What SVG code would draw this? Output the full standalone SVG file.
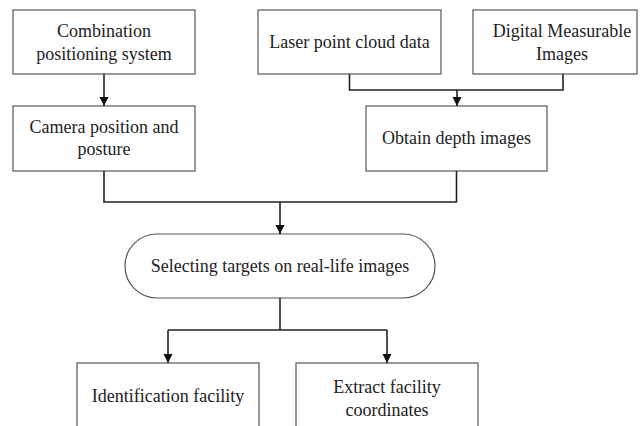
<svg xmlns="http://www.w3.org/2000/svg" width="640" height="426" viewBox="0 0 640 426">
  <style>
    .box { fill: #ffffff; stroke: #555555; stroke-width: 1.2; }
    .lbl { font-family: "Liberation Serif", "Times New Roman", serif; font-size: 18px; fill: #222222; text-anchor: middle; }
    .wire { fill: none; stroke: #222222; stroke-width: 1.6; }
  </style>
  <defs>
    <marker id="arrow" viewBox="0 0 10 10" refX="10" refY="5" markerWidth="9" markerHeight="10" markerUnits="userSpaceOnUse" orient="auto">
      <path d="M0,0 L10,5 L0,10 Z" fill="#111111"/>
    </marker>
  </defs>
  <rect width="640" height="426" fill="#ffffff"/>

  <g id="combination">
    <rect class="box" x="13" y="10" width="182" height="64"/>
    <text class="lbl" x="104" y="37">Combination</text>
    <text class="lbl" x="104" y="60">positioning system</text>
  </g>
  <g id="laser">
    <rect class="box" x="258" y="10" width="183" height="64"/>
    <text class="lbl" x="349.5" y="48">Laser point cloud data</text>
  </g>
  <g id="digital">
    <rect class="box" x="473" y="10" width="164" height="64"/>
    <text class="lbl" x="562" y="37">Digital Measurable</text>
    <text class="lbl" x="562" y="60">Images</text>
  </g>
  <g id="camera">
    <rect class="box" x="13" y="106" width="182" height="65"/>
    <text class="lbl" x="104" y="133">Camera position and</text>
    <text class="lbl" x="104" y="155">posture</text>
  </g>
  <g id="depth">
    <rect class="box" x="366" y="106" width="181" height="65"/>
    <text class="lbl" x="456.5" y="144">Obtain depth images</text>
  </g>
  <g id="selecting">
    <rect class="box" x="125" y="234" width="310" height="64" rx="32" ry="32"/>
    <text class="lbl" x="280" y="272">Selecting targets on real-life images</text>
  </g>
  <g id="identification">
    <rect class="box" x="77" y="363" width="182" height="66"/>
    <text class="lbl" x="168" y="402">Identification facility</text>
  </g>
  <g id="extract">
    <rect class="box" x="296" y="363" width="182" height="66"/>
    <text class="lbl" x="387" y="393">Extract facility</text>
    <text class="lbl" x="387" y="416">coordinates</text>
  </g>

  <g id="connectors">
    <path class="wire" d="M104,74 V106" marker-end="url(#arrow)"/>
    <path class="wire" d="M349.5,74 V90 H563 V74"/>
    <path class="wire" d="M457,90 V106" marker-end="url(#arrow)"/>
    <path class="wire" d="M104,171 V202 H456.5 V171"/>
    <path class="wire" d="M280,202 V234" marker-end="url(#arrow)"/>
    <path class="wire" d="M280,298 V330"/>
    <path class="wire" d="M168,330 H387"/>
    <path class="wire" d="M168,330 V363" marker-end="url(#arrow)"/>
    <path class="wire" d="M387,330 V363" marker-end="url(#arrow)"/>
  </g>
</svg>
